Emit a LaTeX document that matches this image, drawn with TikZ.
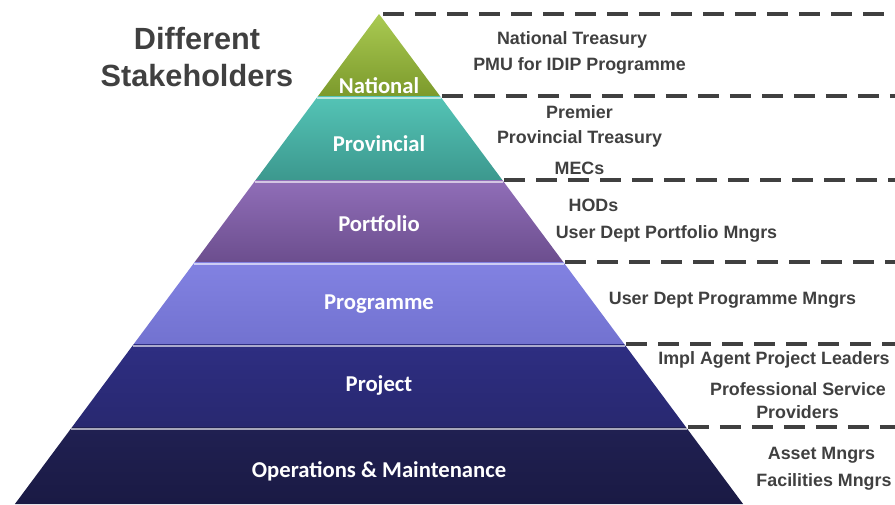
\documentclass[tikz,border=0pt]{standalone}
\usepackage{fontspec}
\setmainfont{Liberation Sans}
\newfontfamily\labelfont{Carlito}
\usetikzlibrary{positioning,calc}

\definecolor{textgray}{HTML}{404040}
\definecolor{natA}{RGB}{170,202,82}
\definecolor{natB}{RGB}{124,154,44}
\definecolor{provA}{RGB}{84,196,182}
\definecolor{provB}{RGB}{60,152,142}
\definecolor{portA}{RGB}{144,110,184}
\definecolor{portB}{RGB}{108,78,142}
\definecolor{progA}{RGB}{130,130,226}
\definecolor{progB}{RGB}{114,114,208}
\definecolor{projA}{RGB}{46,46,130}
\definecolor{projB}{RGB}{40,40,112}
\definecolor{opsA}{RGB}{32,32,82}
\definecolor{opsB}{RGB}{26,26,68}

\def\slope{0.743}

\tikzset{
  layer/.style={text=white, yshift=-1.5pt, font=\labelfont\bfseries\fontsize{17}{20}\selectfont},
  who/.style={text=textgray, yshift=-1.5pt, font=\bfseries\fontsize{13.4}{16}\selectfont},
  divider/.style={draw=textgray, line width=3pt, dash pattern=on 15.5pt off 8.5pt}
}

\begin{document}
\begin{tikzpicture}[x=0.75pt,y=-0.75pt]
    \useasboundingbox (0,0) rectangle (895,504);

    % Pyramid bands
    \foreach \ya/\yb/\ctop/\cbot in {14/96/natA/natB, 96/180/provA/provB,
        180/262/portA/portB, 262/344/progA/progB, 344/427/projA/projB, 427/504/opsA/opsB}
    {
        \shade [top color=\ctop, bottom color=\cbot]
            ({379-\slope*(\ya-14)},\ya) -- ({379+\slope*(\ya-14)},\ya)
            -- ({379+\slope*(\yb-14)},\yb) -- ({379-\slope*(\yb-14)},\yb) -- cycle;
    }
    % Light edge on top of each band
    \foreach \ya/\ctop in {96/provA, 180/portA, 262/progA, 344/projA, 427/opsA}
    {
        \draw [line width=1.5pt, \ctop!40!white]
            ({379-\slope*(\ya-13)},\ya+1.5) -- ({379+\slope*(\ya-13)},\ya+1.5);
    }

    % Level labels
    \node [layer] (national) at (379,84) {National};
    \node [layer] (provincial) at (379,142) {Provincial};
    \node [layer] (portfolio) at (379,222) {Portfolio};
    \node [layer] (programme) at (379,302) {Programme};
    \node [layer] (project) at (379,383) {Project};
    \node [layer] (ops) at (379,469) {Operations \& Maintenance};

    % Dividers
    \draw [divider] (383,14) -- (895,14);
    \foreach \y in {96,180,262,344,427}
    {
        \draw [divider] ({381+\slope*(\y-14)},\y) -- (895,\y);
    }

    % Title
    \node [text=textgray, font=\bfseries\fontsize{23}{27.75}\selectfont, align=center]
        (title) at (197,57.5) {Different\\Stakeholders};

    % Stakeholders per level
    \node [who] (nt) at (572,38) {National Treasury};
    \node [who] (pmu) at (579.5,64) {PMU for IDIP Programme};
    \node [who] (premier) at (579.5,110) {Premier};
    \node [who] (pt) at (579.5,137) {Provincial Treasury};
    \node [who] (mecs) at (579.5,166) {MECs};
    \node [who] (hods) at (593.5,203) {HODs};
    \node [who] (udpf) at (666.5,232) {User Dept Portfolio Mngrs};
    \node [who] (udpg) at (732.5,298) {User Dept Programme Mngrs};
    \node [who] (impl) at (774,358) {Impl Agent Project Leaders};
    \node [who] (prof) at (798,387) {Professional Service};
    \node [who] (prov) at (797.5,410) {Providers};
    \node [who] (asset) at (821.5,453) {Asset Mngrs};
    \node [who] (fac) at (824,480) {Facilities Mngrs};
\end{tikzpicture}
\end{document}
